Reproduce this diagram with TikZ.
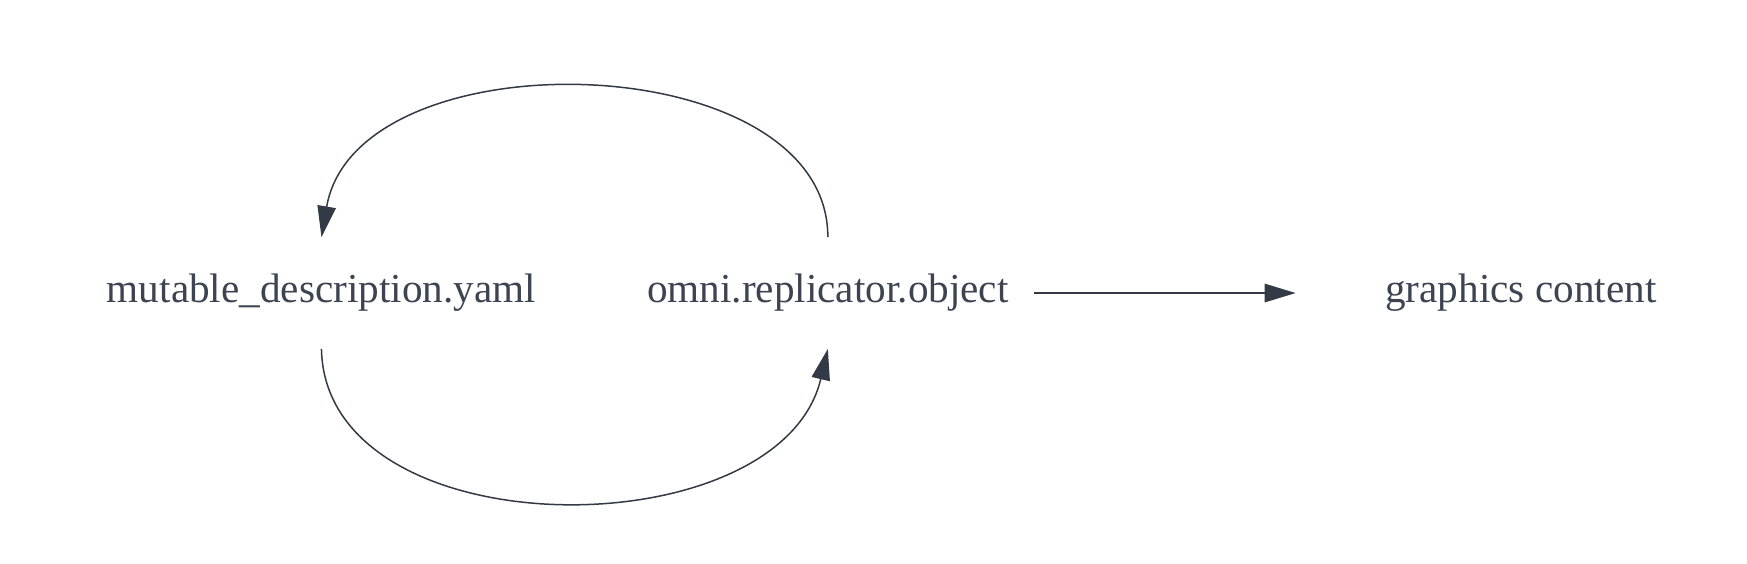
\documentclass[tikz,border=0pt]{standalone}
\usepackage{fontspec}
\setmainfont{Liberation Serif}
\usetikzlibrary{arrows.meta}
\definecolor{txt}{HTML}{3C4452}
\definecolor{edge}{HTML}{333A45}
\begin{document}
\begin{tikzpicture}[x=1.1142pt,y=-1.1142pt,
  lbl/.style={inner sep=0pt, text=txt, font=\fontsize{41.2}{49}\selectfont,
    text height=27.9pt, text depth=8.9pt, minimum height=111.4pt, anchor=center},
  conn/.style={draw=edge, line width=1.5pt, -{Triangle[length=31pt,width=18.5pt]}}]
\useasboundingbox (0pt,0pt) rectangle (1747pt,-564pt);
\node[lbl, minimum width=445.7pt] (A) at (288.5,263) {mutable\_description.yaml};
\node[lbl, minimum width=412.3pt] (B) at (743,263) {omni.replicator.object};
\node[lbl, minimum width=450.1pt] (C) at (1365,263) {graphics content};
\draw[conn] (B.north) .. controls (743,40) and (320,30) .. (A.north);
\draw[conn] (A.south) .. controls (292,495) and (700,495) .. (B.south);
\draw[conn] (B.east) -- (C.west);
\end{tikzpicture}
\end{document}
